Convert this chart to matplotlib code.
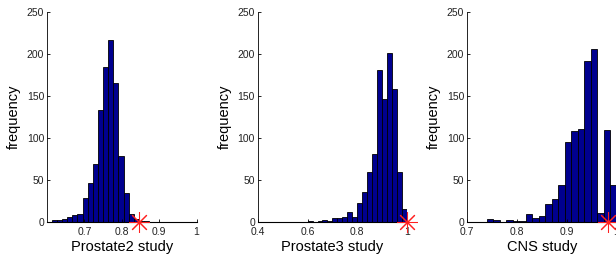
import numpy as np
import matplotlib.pyplot as plt

plt.rcParams['font.family'] = ['Liberation Sans', 'DejaVu Sans']

# permutation histograms, counts
p2_counts = [2, 2, 4, 6, 8, 10, 28, 46, 69, 133, 185, 217, 166, 79, 35, 9, 3, 1, 1]
p2_start, p2_width = 0.6125, 0.01375
p2_observed = 0.845

p3_counts = [1, 0, 1, 2, 1, 5, 5, 6, 12, 6, 23, 36, 60, 81, 181, 146, 201, 158, 60, 15]
p3_start, p3_width = 0.60, 0.02
p3_observed = 1.0

cns_counts = [3, 2, 0, 2, 1, 1, 9, 5, 7, 22, 27, 44, 95, 108, 111, 192, 206, 11, 110, 44]
cns_start, cns_width = 0.740, 0.013
cns_observed = 0.982

panels = [
    ('Prostate2 study', p2_counts, p2_start, p2_width, p2_observed,
     (0.6, 1.0), [0.7, 0.8, 0.9, 1.0], ['0.7', '0.8', '0.9', '1']),
    ('Prostate3 study', p3_counts, p3_start, p3_width, p3_observed,
     (0.4, 1.0), [0.4, 0.6, 0.8, 1.0], ['0.4', '0.6', '0.8', '1']),
    ('CNS study', cns_counts, cns_start, cns_width, cns_observed,
     (0.7, 1.0), [0.7, 0.8, 0.9, 1.0], ['0.7', '0.8', '0.9', '1']),
]

fig = plt.figure(figsize=(6.16, 2.59), dpi=100)
lefts = [47 / 616, 257.7 / 616, 467 / 616]
w = 149.5 / 616

for left, (name, counts, start, width, obs, xlim, xt, xtl) in zip(lefts, panels):
    ax = fig.add_axes([left, 37 / 259, w, 210 / 259])
    n = len(counts)
    edges = start + width * np.arange(n)
    ax.bar(edges, counts, width=width, align='edge',
           color='#00008F', edgecolor='black', linewidth=0.6)
    ax.plot([obs], [0], marker=(8, 2, 0), markersize=15, color='#ff2020',
            markeredgewidth=0.75, linestyle='none', clip_on=False, zorder=5)
    ax.set_xlim(*xlim)
    ax.set_ylim(0, 250)
    ax.set_xticks(xt)
    ax.set_xticklabels(xtl)
    ax.set_yticks([0, 50, 100, 150, 200, 250])
    ax.spines['top'].set_visible(False)
    ax.spines['right'].set_visible(False)
    ax.spines['left'].set_linewidth(0.6)
    ax.spines['bottom'].set_linewidth(0.8)
    ax.tick_params(direction='in', length=2.5, width=0.6, labelsize=7.5,
                   labelcolor='#222222')
    ax.tick_params(axis='y', pad=2)
    ax.tick_params(axis='x', pad=3.5)
    ax.set_xlabel(name, fontsize=10.5, labelpad=2)
    ax.set_ylabel('frequency', fontsize=10.5, labelpad=4)

fig.savefig('out.png', dpi=100)
